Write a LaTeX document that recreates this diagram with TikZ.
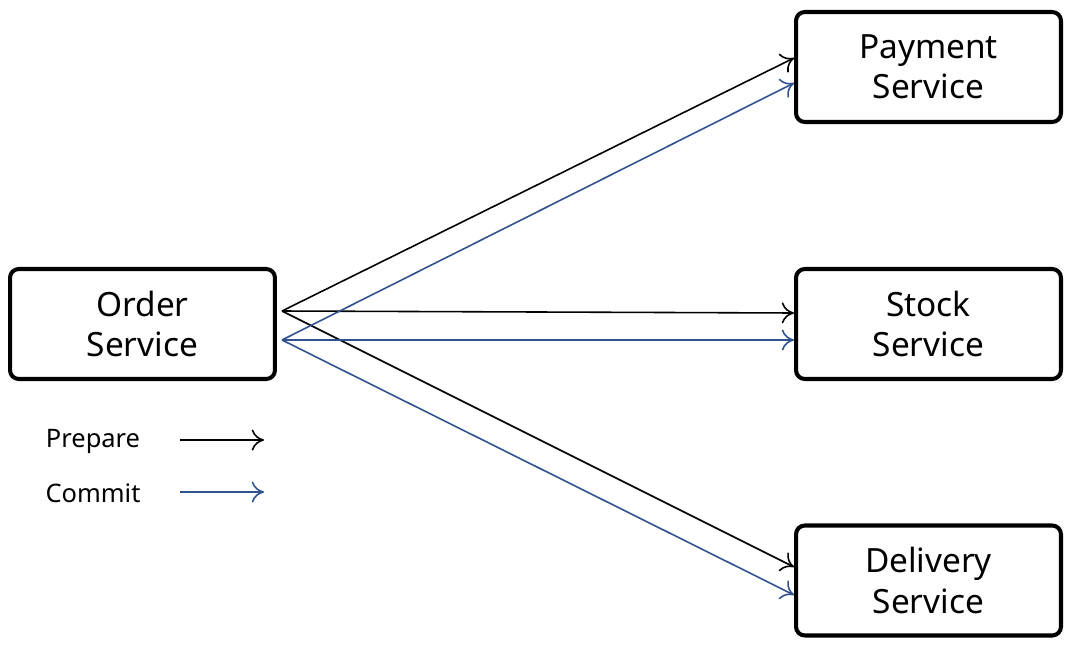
\documentclass[tikz,border=0pt]{standalone}
\usepackage{fontspec}
\setmainfont{Noto Sans}
\usetikzlibrary{arrows.meta}
\definecolor{cblue}{RGB}{47,82,143}
\begin{document}
\begin{tikzpicture}[x=0.02cm,y=-0.02cm,
 box/.style={draw,line width=2.3pt,rounded corners=5pt,minimum width=5.3cm,minimum height=2.2cm,align=center,font=\fontsize{19}{23}\selectfont,inner sep=0pt},
 ar/.style={-{To[length=7pt,width=12pt]},line width=0.9pt},
 bl/.style={ar,cblue},
 lg/.style={font=\fontsize{14.5}{17}\selectfont}]
\useasboundingbox (0,0) rectangle (1074,649);
\node[box] (o) at (142.5,324) {Order\\Service};
\node[box] (p) at (928.5,67) {Payment\\Service};
\node[box] (s) at (928.5,324) {Stock\\Service};
\node[box] (d) at (928.5,580.5) {Delivery\\Service};
\coordinate (ob) at (282,311);
\coordinate (oc) at (282,340);
\draw[ar] (ob) -- (p.west |- 0,58);
\draw[ar] (ob) -- (s.west |- 0,313);
\draw[ar] (ob) -- (d.west |- 0,567);
\draw[bl] (oc) -- (p.west |- 0,83);
\draw[bl] (oc) -- (s.west |- 0,340);
\draw[bl] (oc) -- (d.west |- 0,595);
\node[lg] (lp) at (93,441) {Prepare};
\node[lg] (lc) at (93,493) {Commit};
\coordinate (pe) at (264,440);
\coordinate (ce) at (264,492);
\draw[ar] (180,440) -- (pe);
\draw[bl] (180,492) -- (ce);
\end{tikzpicture}
\end{document}
